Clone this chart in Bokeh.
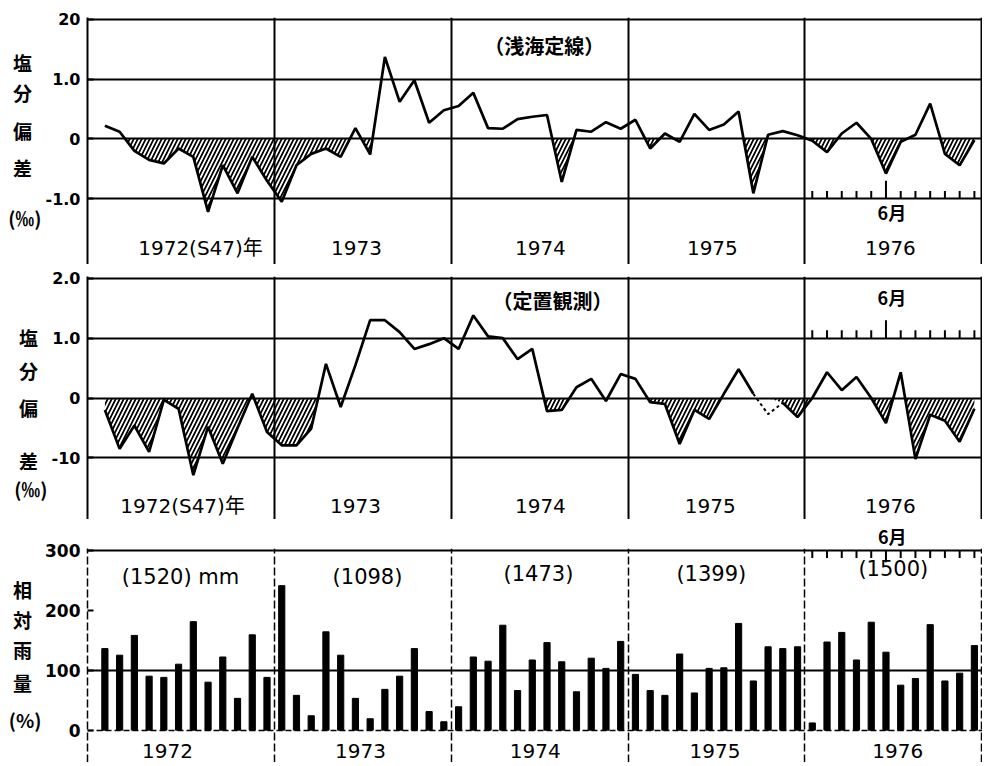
from bokeh.plotting import figure
from bokeh.models import Range1d, FixedTicker, Label, Grid, LinearAxis
from bokeh.layouts import column
from bokeh.embed import file_html
from bokeh.resources import INLINE

# ---------------- data ----------------
years = [1972, 1973, 1974, 1975, 1976]
month = list(range(60))          # month index, Jan 1972 = 0

# salinity anomaly, shallow-sea fixed line (permil)
sal_shallow = [0.22, 0.12, -0.2, -0.35, -0.41, -0.16, -0.3, -1.22, -0.44, -0.91, -0.3, -0.7,
               -1.05, -0.44, -0.25, -0.16, -0.3, 0.18, -0.26, 1.37, 0.62, 0.98, 0.27, 0.48,
               0.55, 0.77, 0.18, 0.17, 0.33, 0.37, 0.4, -0.72, 0.15, 0.12, 0.28, 0.17,
               0.32, -0.16, 0.09, -0.05, 0.42, 0.15, 0.24, 0.46, -0.91, 0.07, 0.13, 0.06,
               -0.03, -0.22, 0.09, 0.27, 0.0, -0.58, -0.05, 0.07, 0.59, -0.25, -0.44, -0.02]

# salinity anomaly, fixed-point observation (permil)
sal_fixed = [-0.2, -0.85, -0.46, -0.9, -0.03, -0.18, -1.29, -0.48, -1.1, -0.5, 0.07, -0.57,
             -0.79, -0.79, -0.51, 0.57, -0.15, 0.55, 1.3, 1.3, 1.1, 0.82, 0.9, 1.0,
             0.82, 1.38, 1.03, 1.0, 0.65, 0.82, -0.22, -0.2, 0.18, 0.32, -0.05, 0.4,
             0.32, -0.07, -0.1, -0.77, -0.2, -0.35, 0.07, 0.48, 0.07, -0.27, -0.08, -0.32,
             0.0, 0.43, 0.13, 0.35, 0.0, -0.42, 0.43, -1.02, -0.28, -0.38, -0.73, -0.18]
fixed_estimated = [45]           # month drawn dotted (no hatch)

# relative rainfall (%)
rain_rel = [136, 125, 158, 90, 88, 110, 181, 80, 122, 53, 159, 88,
            241, 58, 24, 164, 125, 53, 19, 68, 90, 136, 31, 14,
            39, 122, 115, 175, 66, 117, 146, 114, 64, 120, 103, 148,
            93, 66, 58, 127, 62, 103, 104, 178, 82, 139, 136, 139,
            12, 147, 163, 117, 180, 130, 75, 86, 176, 82, 95, 141]
rain_annual = [1520, 1098, 1473, 1399, 1500]   # mm

sal_ticks = [2, 1, 0, -1]
sal_tick_labels_1 = ["20", "1.0", "0", "-1.0"]
sal_tick_labels_2 = ["2.0", "1.0", "0", "-10"]
rain_ticks = [300, 200, 100, 0]
rain_tick_labels = ["300", "200", "100", "0"]
year_labels_sal = ["1972(S47)年", "1973", "1974", "1975", "1976"]
year_labels_rain = ["1972", "1973", "1974", "1975", "1976"]
title_1 = "（浅海定線）"
title_2 = "（定置観測）"
ylab_sal = ["塩", "分", "偏", "差", "(‰)"]
ylab_rain = ["相", "対", "雨", "量", "(%)"]
june_label = "6月"

# ---------------- helpers ----------------
FONT = "DejaVu Sans, Noto Sans CJK JP"
JFONT = "Noto Sans CJK JP"
FRAME_LEFT = 87
FRAME_W = 895
X_RANGE = (-1.18, 59.55)
year_bounds = [12 * k - 0.5 for k in range(1, 6)]
last_year_months = month[48:60]
june = 48 + 5
PAD = "\u2002"   # en space keeps the single characters centred over the unit label


def neg_area(x, y, skip=None):
    xs, ys = [], []
    for i in range(len(x)):
        if i > 0:
            y0, y1 = y[i - 1], y[i]
            if (y0 < 0 < y1) or (y1 < 0 < y0):
                t = y0 / (y0 - y1)
                xs.append(x[i - 1] + t * (x[i] - x[i - 1]))
                ys.append(0.0)
        xs.append(x[i])
        ys.append(min(y[i], 0.0))
    if skip is not None:
        lo, hi = skip
        ys = [0.0 if lo < xx < hi else yy for xx, yy in zip(xs, ys)]
    return xs, ys


def lab(p, x, y, text, size, font=FONT, bold=False):
    p.add_layout(Label(x=x, y=y, text=text, text_font=font,
                       text_font_size=f"{size}px", text_align="center",
                       text_baseline="middle", text_color="black",
                       text_font_style="bold" if bold else "normal"))


def text_axis(ticks, labels, size, standoff):
    return LinearAxis(ticker=FixedTicker(ticks=ticks),
                      major_label_overrides=dict(zip(ticks, labels)),
                      axis_line_color=None, major_tick_line_color=None,
                      major_tick_in=0, major_tick_out=0,
                      minor_tick_line_color=None, minor_tick_in=0, minor_tick_out=0,
                      axis_label_standoff=0,
                      major_label_standoff=standoff,
                      major_label_text_font=JFONT,
                      major_label_text_font_size=f"{size}px",
                      major_label_text_font_style="bold",
                      major_label_text_color="black")


def side_labels(p, positions, texts, standoff=1):
    ticks = list(positions)
    labels = [t if t.startswith("(") else t + PAD for t in texts]
    p.add_layout(text_axis(ticks, labels, 19, standoff), "left")


def base_fig(top, fh, yr, bottom=0):
    p = figure(frame_width=FRAME_W, frame_height=fh, min_border_left=FRAME_LEFT,
               min_border_right=0, min_border_top=top, min_border_bottom=bottom,
               x_range=Range1d(*X_RANGE), y_range=Range1d(*yr),
               x_axis_location=None, toolbar_location=None,
               output_backend="svg", background_fill_color="white",
               border_fill_color="white", outline_line_color=None)
    p.yaxis.axis_line_width = 2
    p.yaxis.major_tick_out = 0
    p.yaxis.major_tick_in = 6
    p.yaxis.major_tick_line_width = 2
    p.yaxis.minor_tick_line_color = None
    p.yaxis.minor_tick_out = 0
    p.yaxis.major_label_standoff = 7
    p.yaxis.major_label_text_font = "DejaVu Sans"
    p.yaxis.major_label_text_font_size = "16px"
    p.yaxis.major_label_text_font_style = "bold"
    p.yaxis.major_label_text_color = "black"
    p.xgrid.ticker = FixedTicker(ticks=year_bounds)
    p.xgrid.grid_line_color = "black"
    p.xgrid.grid_line_width = 2
    return p


def sal_panel(top, ylow, fh, data, ticklabels, ylab_y, title, title_x, title_y,
              year_x, year_y, tick_base, tick_dir, june_y, skip=None, est=None):
    p = base_fig(top, fh, (ylow, 2.03))
    p.yaxis.ticker = FixedTicker(ticks=sal_ticks)
    p.yaxis.major_label_overrides = dict(zip(sal_ticks, ticklabels))
    p.ygrid.ticker = FixedTicker(ticks=sal_ticks)
    p.ygrid.grid_line_color = "black"
    p.ygrid.grid_line_width = 2

    xs, ys = neg_area(month, data, skip)
    p.varea(x=xs, y1=ys, y2=0, fill_color=None, hatch_pattern="/",
            hatch_color="black", hatch_weight=1.7, hatch_scale=8)
    if est:
        solid = [float("nan") if i in est else v for i, v in enumerate(data)]
        dotted = [v if any(abs(i - e) <= 1 for e in est) else float("nan")
                  for i, v in enumerate(data)]
        p.line(month, solid, line_color="black", line_width=2.7)
        p.line(month, dotted, line_color="black", line_width=2, line_dash="3 3")
    else:
        p.line(month, data, line_color="black", line_width=2.7)

    # monthly ticks for the last year
    y0 = [tick_base] * 12
    y1 = [tick_base + tick_dir * (0.3 if m == june else 0.13) for m in last_year_months]
    p.segment(x0=last_year_months, y0=y0, x1=last_year_months, y1=y1,
              line_color="black", line_width=2)
    lab(p, june + 0.4, june_y, june_label, 18, font=JFONT, bold=True)

    side_labels(p, ylab_y, ylab_sal)
    lab(p, title_x, title_y, title, 20, font=JFONT, bold=True)
    for t, xx in zip(year_labels_sal, year_x):
        lab(p, xx, year_y, t, 20)
    return p


p1 = sal_panel(17, -2.1, 247, sal_shallow, sal_tick_labels_1,
               [1.28, 0.78, 0.14, -0.48, -1.31],
               title_1, 29.82, 1.56,
               [6.49, 17.07, 29.55, 41.22, 53.3], -1.82, -1, 1, -1.23)

p2 = sal_panel(12, -2.03, 243, sal_fixed, sal_tick_labels_2,
               [1.01, 0.46, -0.16, -1.05, -1.52],
               title_2, 30.37, 1.63,
               [5.27, 17.0, 29.55, 41.08, 53.3], -1.8, 1, 1, 1.68,
               skip=(44, 46), est=fixed_estimated)

# ---------------- rainfall panel ----------------
p3 = base_fig(26, 214, (-54, 303))
p3.yaxis.ticker = FixedTicker(ticks=rain_ticks)
p3.yaxis.major_label_overrides = dict(zip(rain_ticks, rain_tick_labels))
p3.yaxis.major_label_text_font_size = "17px"
p3.yaxis.axis_line_width = 1.5
p3.yaxis.axis_line_dash = "8 3"
p3.ygrid.ticker = FixedTicker(ticks=[300, 100])
p3.ygrid.grid_line_color = "black"
p3.ygrid.grid_line_width = 2
p3.xgrid.grid_line_width = 1.5
p3.xgrid.grid_line_dash = "8 3"
p3.add_layout(Grid(dimension=1, ticker=FixedTicker(ticks=[0]),
                   grid_line_color="black", grid_line_width=1.5,
                   grid_line_dash="6 3"))

p3.vbar(x=month, top=rain_rel, bottom=0, width=0.42, color="black")

ry0 = [300] * 12
ry1 = [300 - (20 if m == june else 13) for m in last_year_months]
p3.segment(x0=last_year_months, y0=ry0, x1=last_year_months, y1=ry1,
           line_color="black", line_width=2)

june_x = june + 0.43
p3.add_layout(text_axis([june_x], [june_label], 18, 0), "above")

side_labels(p3, [235, 185, 135, 80, 18], ylab_rain)

annual_x = [5.13, 17.82, 29.42, 41.15, 53.5]
annual_y = [255, 255, 260, 260, 268]
for k, (v, xx, yy) in enumerate(zip(rain_annual, annual_x, annual_y)):
    txt = f"({v}) mm" if k == 0 else f"({v})"
    lab(p3, xx, yy, txt, 21)
for t, xx in zip(year_labels_rain, [4.25, 17.34, 29.2, 41.4, 53.8]):
    lab(p3, xx, -35, t, 20)

layout = column(p1, p2, p3)
open("out.html", "w").write(file_html(layout, INLINE))
